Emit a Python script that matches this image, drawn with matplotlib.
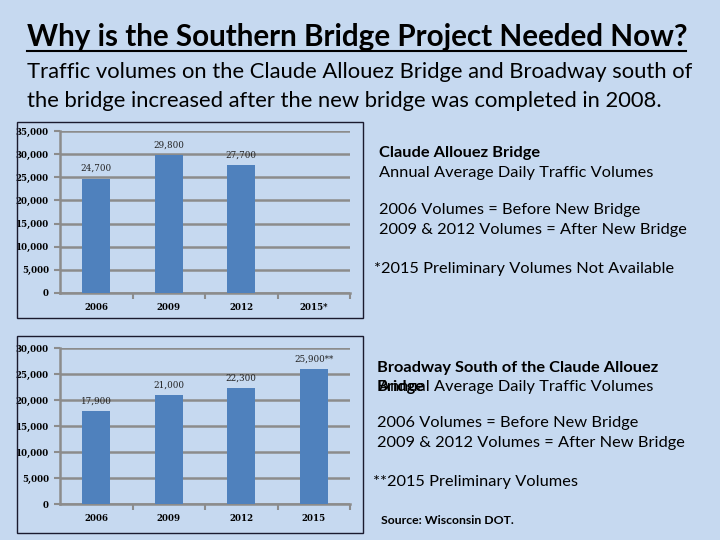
import matplotlib
matplotlib.use("Agg")
import matplotlib.pyplot as plt
from matplotlib.patches import Rectangle

# data
years_bridge = ["2006", "2009", "2012", "2015*"]
vol_bridge = [24700, 29800, 27700, None]
labels_bridge = ["24,700", "29,800", "27,700", ""]

years_broadway = ["2006", "2009", "2012", "2015"]
vol_broadway = [17900, 21000, 22300, 25900]
labels_broadway = ["17,900", "21,000", "22,300", "25,900**"]

BG = "#c6d9f0"
BAR = "#4f81bd"
GRID = "#8c8c8c"
W, H = 720, 540

fig = plt.figure(figsize=(7.2, 5.4), dpi=100, facecolor=BG)


def fx(px):
    return px / W


def fy(py):
    return 1 - py / H


def frame(x0, y0, x1, y1):
    fig.patches.append(Rectangle((fx(x0), fy(y1)), fx(x1 - x0), (y1 - y0) / H,
                                 transform=fig.transFigure, fill=False,
                                 ec="#1a1a2e", lw=1.0))


def bar_panel(rect, cats, vals, labels, ymax):
    ax = fig.add_axes(rect)
    ax.set_facecolor("none")
    xs = list(range(len(cats)))
    hv = [v if v is not None else 0 for v in vals]
    ax.bar(xs, hv, width=0.39, color=BAR, zorder=3)
    for x, v, lab in zip(xs, hv, labels):
        if lab:
            ax.annotate(lab, (x, v), xytext=(0, 4), textcoords="offset points",
                        ha="center", va="bottom", fontsize=6.3,
                        family="DejaVu Serif", color="#222")
    ax.set_xlim(-0.5, len(cats) - 0.5)
    ax.set_ylim(0, ymax)
    ax.set_yticks(range(0, ymax + 1, 5000))
    ax.set_yticklabels([f"{t:,}" for t in range(0, ymax + 1, 5000)],
                       fontsize=6.2, family="DejaVu Serif", fontweight="bold")
    ax.set_xticks(xs)
    ax.set_xticklabels(cats, fontsize=6.2, family="DejaVu Serif", fontweight="bold")
    ax.tick_params(axis="x", length=0, pad=7)
    ax.set_xticks([x + 0.5 for x in xs], minor=True)
    ax.tick_params(axis="x", which="minor", length=4, color=GRID, width=1.5)
    ax.tick_params(axis="y", length=4, color=GRID, width=1.5, pad=4)
    ax.grid(True, axis="y", color=GRID, lw=1.8, zorder=0)
    for s in ["top", "right"]:
        ax.spines[s].set_visible(False)
    for s in ["left", "bottom"]:
        ax.spines[s].set_color(GRID)
        ax.spines[s].set_linewidth(1.8)
    return ax


frame(17, 122, 363, 318)
frame(17, 336, 363, 533)

bar_panel([fx(60), fy(293), fx(290), 162 / H], years_bridge, vol_bridge,
          labels_bridge, 35000)
bar_panel([fx(60), fy(504), fx(290), 156 / H], years_broadway, vol_broadway,
          labels_broadway, 30000)

FONT = "Lato"
fig.text(fx(27), fy(37), "Why is the Southern Bridge Project Needed Now?",
         fontsize=21.3, fontweight="bold", family=FONT, va="center")
fig.lines.append(plt.Line2D([fx(27), fx(686)], [fy(51), fy(51)],
                            transform=fig.transFigure, color="black", lw=1.5))
fig.text(fx(27), fy(72), "Traffic volumes on the Claude Allouez Bridge and Broadway south of",
         fontsize=15.8, family=FONT, va="center")
fig.text(fx(27), fy(101), "the bridge increased after the new bridge was completed in 2008.",
         fontsize=15.8, family=FONT, va="center")

side = 11.8
fig.text(fx(379), fy(153), "Claude Allouez Bridge", fontsize=side, fontweight="bold",
         family=FONT, va="center")
fig.text(fx(379), fy(173), "Annual Average Daily Traffic Volumes", fontsize=side,
         family=FONT, va="center")
fig.text(fx(379), fy(210), "2006 Volumes = Before New Bridge", fontsize=side,
         family=FONT, va="center")
fig.text(fx(379), fy(230), "2009 & 2012 Volumes = After New Bridge", fontsize=side,
         family=FONT, va="center")
fig.text(fx(374), fy(269), "*2015 Preliminary Volumes Not Available", fontsize=side,
         family=FONT, va="center")

fig.text(fx(377), fy(368), "Broadway South of the Claude Allouez", fontsize=side,
         fontweight="bold", family=FONT, va="center")
fig.text(fx(377), fy(387), "Bridge", fontsize=side, fontweight="bold",
         family=FONT, va="center")
fig.text(fx(379), fy(387), "Annual Average Daily Traffic Volumes", fontsize=side,
         family=FONT, va="center")
fig.text(fx(377), fy(423), "2006 Volumes = Before New Bridge", fontsize=side,
         family=FONT, va="center")
fig.text(fx(377), fy(443), "2009 & 2012 Volumes = After New Bridge", fontsize=side,
         family=FONT, va="center")
fig.text(fx(373), fy(482), "**2015 Preliminary Volumes", fontsize=side,
         family=FONT, va="center")
fig.text(fx(381), fy(521), "Source: Wisconsin DOT.", fontsize=8.8, fontweight="bold",
         family=FONT, va="center")

fig.savefig("out.png", dpi=100, facecolor=BG)
